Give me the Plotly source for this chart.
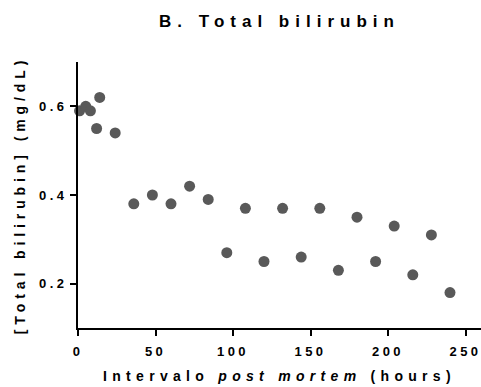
import plotly.graph_objects as go

hours = [1, 5, 8, 12, 14, 24, 36, 48, 60, 72, 84, 96, 108, 120, 132, 144, 156, 168, 180, 192, 204, 216, 228, 240]
bilirubin = [0.59, 0.60, 0.59, 0.55, 0.62, 0.54, 0.38, 0.40, 0.38, 0.42, 0.39, 0.27, 0.37, 0.25, 0.37, 0.26, 0.37, 0.23, 0.35, 0.25, 0.33, 0.22, 0.31, 0.18]
x_ticks = [0, 50, 100, 150, 200, 250]
x_tick_labels = ["0", "50", "100", "150", "200", "250"]
y_ticks = [0.2, 0.4, 0.6]
y_tick_labels = ["0.2", "0.4", "0.6"]

FONT = "Liberation Sans, Arial, sans-serif"

fig = go.Figure()
fig.add_trace(go.Scatter(
    x=hours, y=bilirubin, mode="markers",
    marker=dict(size=11, color="#595959", line=dict(width=0)),
    cliponaxis=False, showlegend=False,
))

fig.update_layout(
    width=481, height=387,
    margin=dict(l=78, r=0, t=62, b=59, autoexpand=False),
    paper_bgcolor="white", plot_bgcolor="white",
    font=dict(family=FONT, color="black"),
    title=dict(text="<b>B. Total bilirubin</b>", x=0.5, xref="paper",
               y=1 - 21 / 387, yref="container", yanchor="middle",
               font=dict(size=17, family=FONT, color="black")),
    xaxis=dict(
        range=[0, 260], tickvals=x_ticks,
        ticktext=["<b>%s</b>" % t for t in x_tick_labels],
        showgrid=False, zeroline=False,
        showline=True, linecolor="black", linewidth=2,
        ticks="outside", ticklen=6, tickwidth=2, tickcolor="black",
        tickfont=dict(size=13, family=FONT, color="black"),
        ticklabelstandoff=4,
        title=dict(text="<b>Intervalo <i>post mortem</i> (hours)</b>",
                   font=dict(size=14, family=FONT, color="black"), standoff=14),
        automargin=False,
    ),
    yaxis=dict(
        range=[0.1, 0.7], tickvals=y_ticks,
        ticktext=["<b>%s</b>" % t for t in y_tick_labels],
        showgrid=False, zeroline=False,
        showline=True, linecolor="black", linewidth=2,
        ticks="outside", ticklen=6, tickwidth=2, tickcolor="black",
        tickfont=dict(size=13, family=FONT, color="black"),
        title=dict(text="<b>[Total bilirubin] (mg/dL)</b>",
                   font=dict(size=14, family=FONT, color="black"), standoff=20),
        automargin=False,
    ),
)

post = """
var st = document.createElement('style');
st.textContent = '.gtitle{letter-spacing:6px !important;}' +
  '.xtitle{letter-spacing:5.3px !important;}' +
  '.ytitle{letter-spacing:4.9px !important;}' +
  '.xtick text, .ytick text{letter-spacing:3.4px !important;}';
document.head.appendChild(st);
"""

fig.write_html("out.html", post_script=post)
